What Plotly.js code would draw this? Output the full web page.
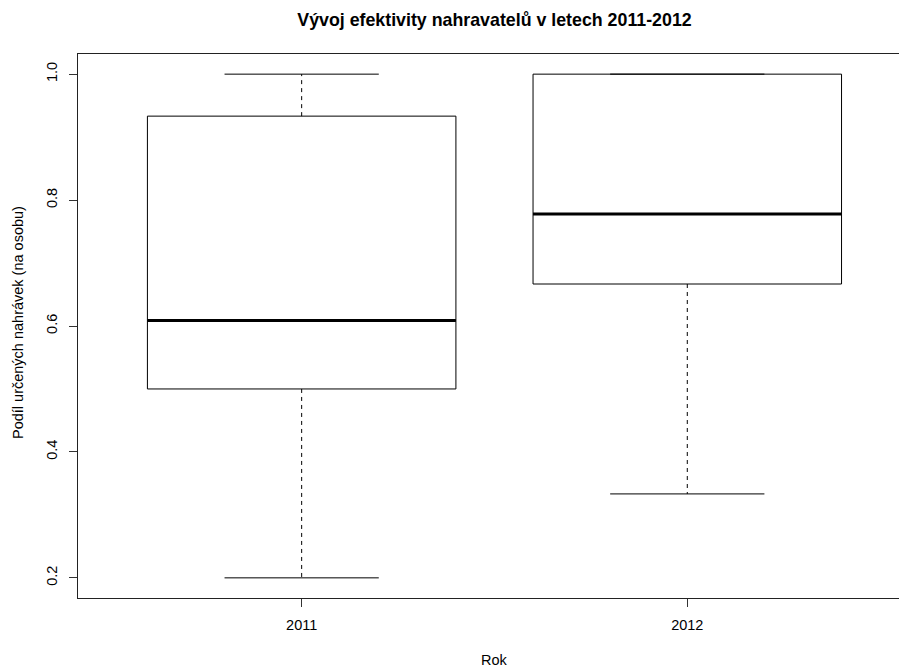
<!DOCTYPE html>
<html>
<head>
<meta charset="utf-8">
<script src="https://cdn.plot.ly/plotly-3.0.1.min.js"></script>
<style>
  html, body { margin: 0; padding: 0; background: #fff; }
  #chart { width: 899px; height: 668px; }
</style>
</head>
<body>
<div id="chart"></div>
<script>
// Five-number summaries of the share of identified passes per player, by season
const years = ['2011', '2012'];
const whiskerLow = [0.2, 0.3333];
const lowerQuartile = [0.5, 0.6667];
const medians = [0.6087, 0.7778];
const upperQuartile = [0.9333, 1.0];
const whiskerHigh = [1.0, 1.0];

const yTickValues = [0.2, 0.4, 0.6, 0.8, 1.0];
const yTickLabels = ['0.2', '0.4', '0.6', '0.8', '1.0'];

const FONT = 'Liberation Sans, Arial, Helvetica, sans-serif';
const BASE_SIZE = 14.5;
const pos = years.map((_, i) => i + 1);
const boxWidth = 0.8;
const stapleHalf = boxWidth / 4;
const medianHalf = boxWidth / 2;

// x range as in a base-R boxplot (0.5..n+0.5 padded by 4%), clipped on the right
const xSpan = pos.length;
const xMin = 0.5 - 0.04 * xSpan;
const xMax = 2.549;
const xMid = (pos[0] + pos[pos.length - 1]) / 2;

// y range: data extent padded by 4% on each side
const yLo = Math.min(...whiskerLow), yHi = Math.max(...whiskerHigh);
const yPad = 0.04 * (yHi - yLo);

// helper: one line segment per box, separated by nulls
function segments(fn) {
  const xs = [], ys = [];
  pos.forEach((p, i) => {
    const s = fn(p, i);
    xs.push(s[0], s[1], null);
    ys.push(s[2], s[3], null);
  });
  return { x: xs, y: ys };
}

const boxes = {
  type: 'box',
  x: pos,
  q1: lowerQuartile,
  median: medians,
  q3: upperQuartile,
  lowerfence: lowerQuartile,
  upperfence: upperQuartile,
  width: boxWidth,
  boxpoints: false,
  whiskerwidth: 0,
  fillcolor: '#ffffff',
  line: { color: '#000000', width: 1 },
  hoverinfo: 'skip',
  showlegend: false
};

const upperWhiskers = segments((p, i) => [p, p, upperQuartile[i], whiskerHigh[i]]);
const lowerWhiskers = segments((p, i) => [p, p, lowerQuartile[i], whiskerLow[i]]);
const whiskers = {
  type: 'scatter', mode: 'lines',
  x: upperWhiskers.x.concat(lowerWhiskers.x),
  y: upperWhiskers.y.concat(lowerWhiskers.y),
  line: { color: '#000000', width: 1, dash: '4px,4px' },
  hoverinfo: 'skip', showlegend: false
};

const topStaples = segments((p, i) => [p - stapleHalf, p + stapleHalf, whiskerHigh[i], whiskerHigh[i]]);
const bottomStaples = segments((p, i) => [p - stapleHalf, p + stapleHalf, whiskerLow[i], whiskerLow[i]]);
const staples = {
  type: 'scatter', mode: 'lines',
  x: topStaples.x.concat(bottomStaples.x),
  y: topStaples.y.concat(bottomStaples.y),
  line: { color: '#000000', width: 1 },
  hoverinfo: 'skip', showlegend: false
};

const medianSeg = segments((p, i) => [p - medianHalf, p + medianHalf, medians[i], medians[i]]);
const medianLines = {
  type: 'scatter', mode: 'lines',
  x: medianSeg.x, y: medianSeg.y,
  line: { color: '#000000', width: 3 },
  hoverinfo: 'skip', showlegend: false
};

const layout = {
  width: 899,
  height: 668,
  margin: { l: 78, r: 0, t: 54, b: 70 },
  paper_bgcolor: '#ffffff',
  plot_bgcolor: '#ffffff',
  font: { family: FONT, size: BASE_SIZE, color: '#000000' },
  title: {
    text: 'Vývoj efektivity nahravatelů v letech 2011-2012',
    font: { family: FONT, size: 17.8, weight: 'bold', color: '#000000' },
    xref: 'paper', x: (xMid - xMin) / (xMax - xMin), xanchor: 'center',
    yref: 'container', y: 1 - 20 / 668, yanchor: 'middle'
  },
  xaxis: {
    range: [xMin, xMax],
    tickmode: 'array',
    tickvals: pos,
    ticktext: years,
    ticks: 'outside', ticklen: 8, tickwidth: 1, tickcolor: '#333333',
    ticklabelstandoff: 6,
    showline: true, mirror: true, linecolor: '#222222', linewidth: 1,
    showgrid: false, zeroline: false,
    tickfont: { family: FONT, size: BASE_SIZE, color: '#000000' }
  },
  yaxis: {
    range: [yLo - yPad, yHi + yPad],
    tickmode: 'array',
    tickvals: yTickValues,
    ticktext: yTickLabels,
    tickangle: -90,
    ticks: 'outside', ticklen: 8, tickwidth: 1, tickcolor: '#333333',
    ticklabelstandoff: 6,
    showline: true, mirror: false, linecolor: '#222222', linewidth: 1,
    showgrid: false, zeroline: false,
    tickfont: { family: FONT, size: BASE_SIZE, color: '#000000' }
  },
  annotations: [
    {
      text: 'Rok',
      xref: 'x', x: xMid, xanchor: 'center',
      yref: 'paper', y: 0, yanchor: 'middle', yshift: -62,
      showarrow: false,
      font: { family: FONT, size: BASE_SIZE, color: '#000000' }
    },
    {
      text: 'Podíl určených nahrávek (na osobu)',
      textangle: -90,
      xref: 'paper', x: 0, xanchor: 'center', xshift: -60,
      yref: 'paper', y: 0.5, yanchor: 'middle', yshift: 3,
      showarrow: false,
      font: { family: FONT, size: BASE_SIZE, color: '#000000' }
    }
  ],
  showlegend: false,
  hovermode: false
};

Plotly.newPlot('chart', [boxes, whiskers, staples, medianLines], layout, {
  staticPlot: true,
  displayModeBar: false
});
</script>
</body>
</html>
